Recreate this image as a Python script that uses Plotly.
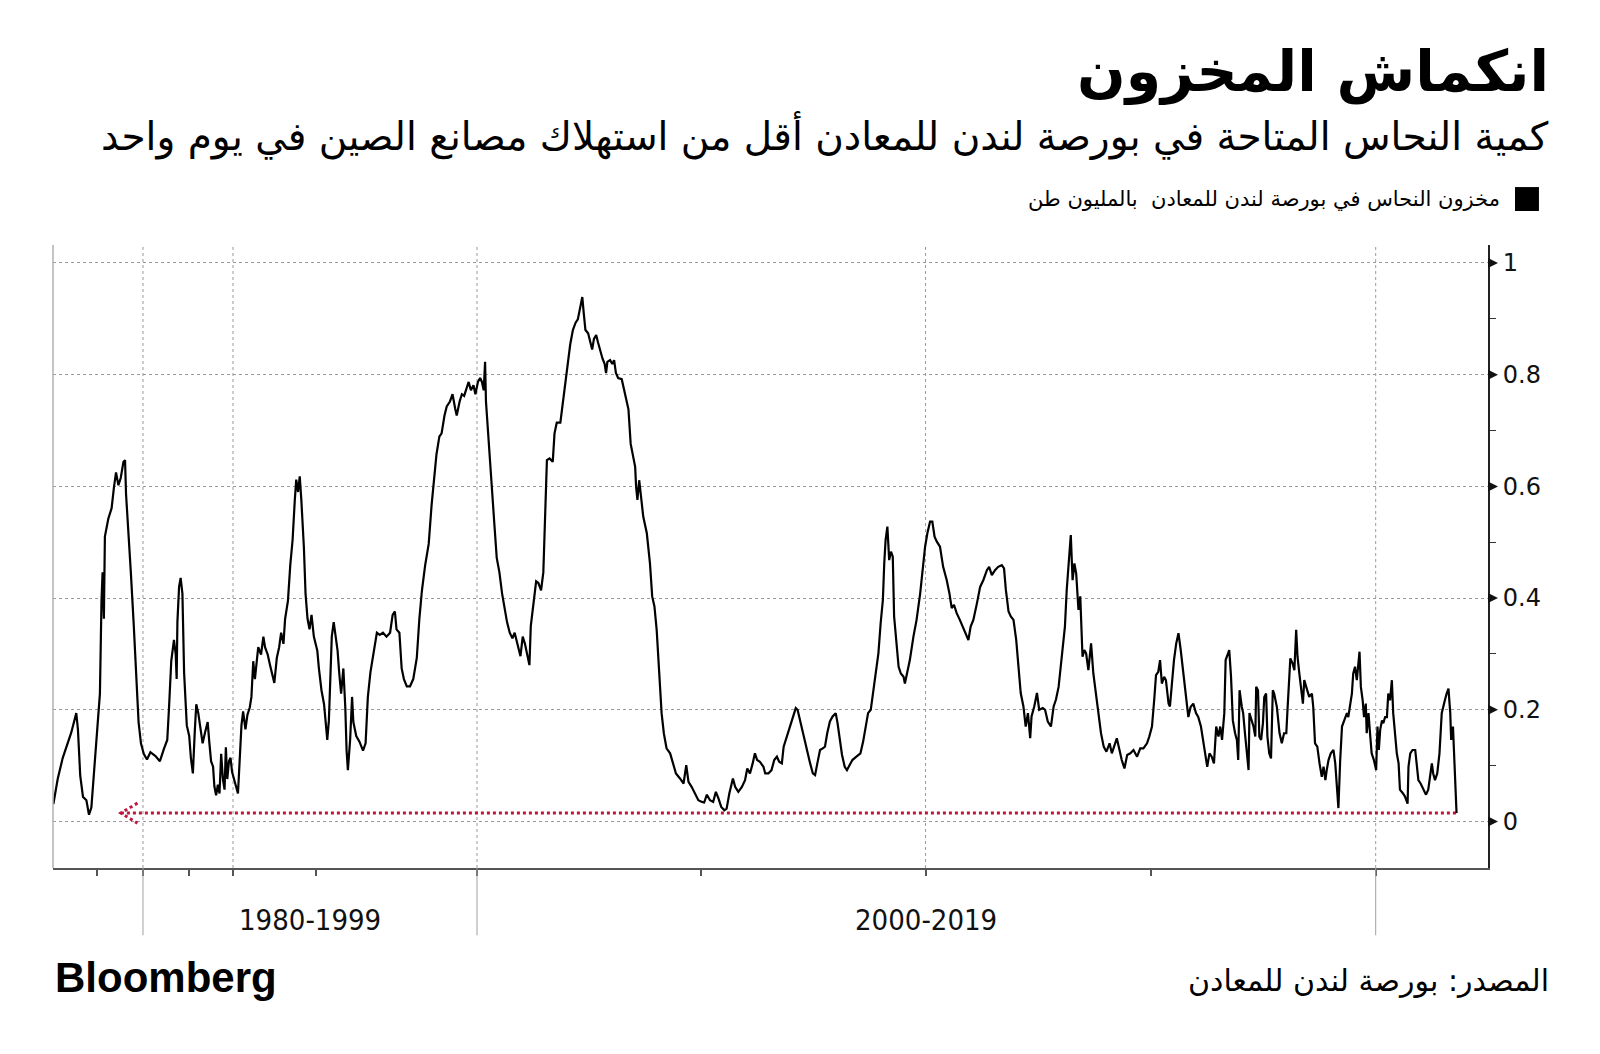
import numpy as np
import plotly.graph_objects as go

# ---------------- data (LME copper stocks, million tonnes) ----------------
YEARS = [
 1970.26,1970.73,1971.28,1971.83,1972.20,1972.75,1972.93,1973.18,1973.48,1973.85,
 1974.13,1974.39,1974.76,1975.13,1975.32,1975.49,1975.61,1975.75,1975.86,1976.23,
 1976.59,1976.85,1977.07,1977.33,1977.58,1977.88,1978.05,1978.16,1978.42,1978.68,
 1978.98,1979.27,1979.52,1979.78,1980.08,1980.43,1980.80,1981.34,1981.82,1982.25,
 1982.61,1982.80,1983.04,1983.33,1983.52,1983.62,1983.70,1983.88,1984.05,1984.24,
 1984.42,1984.71,1984.97,1985.16,1985.39,1985.62,1985.78,1986.01,1986.24,1986.51,
 1986.78,1987.09,1987.29,1987.48,1987.71,1987.86,1988.06,1988.26,1988.45,1988.64,
 1988.84,1989.03,1989.18,1989.34,1989.54,1989.72,1989.89,1990.06,1990.20,1990.30,
 1990.40,1990.51,1990.61,1990.75,1990.87,1991.01,1991.11,1991.22,1991.32,1991.42,
 1991.52,1991.69,1991.83,1991.93,1992.09,1992.23,1992.37,1992.49,1992.64,1992.78,
 1992.90,1993.04,1993.14,1993.31,1993.45,1993.59,1993.72,1993.81,1993.92,1994.02,
 1994.12,1994.27,1994.37,1994.49,1994.61,1994.73,1994.87,1995.04,1995.09,1995.17,
 1995.25,1995.30,1995.35,1995.40,1995.49,1995.55,1995.62,1995.67,1995.72,1995.78,
 1995.85,1995.91,1995.95,1995.99,1996.06,1996.12,1996.16,1996.25,1996.35,1996.46,
 1996.54,1996.61,1996.69,1996.77,1996.85,1996.89,1996.98,1997.08,1997.19,1997.30,
 1997.38,1997.45,1997.50,1997.59,1997.66,1997.73,1997.82,1997.92,1998.02,1998.13,
 1998.21,1998.29,1998.39,1998.50,1998.59,1998.66,1998.74,1998.83,1998.90,1998.99,
 1999.06,1999.16,1999.24,1999.32,1999.37,1999.46,1999.53,1999.60,1999.69,1999.74,
 1999.81,1999.89,1999.95,2000.02,2000.07,2000.11,2000.15,2000.18,2000.20,2000.24,
 2000.29,2000.34,2000.39,2000.44,2000.50,2000.56,2000.62,2000.67,2000.73,2000.79,
 2000.84,2000.88,2000.93,2000.97,2001.02,2001.07,2001.12,2001.17,2001.20,2001.26,
 2001.32,2001.37,2001.43,2001.48,2001.52,2001.56,2001.62,2001.69,2001.73,2001.78,
 2001.86,2001.92,2001.97,2002.02,2002.08,2002.14,2002.20,2002.25,2002.29,2002.35,
 2002.38,2002.42,2002.48,2002.54,2002.57,2002.61,2002.66,2002.70,2002.75,2002.80,
 2002.85,2002.88,2002.91,2002.97,2003.02,2003.06,2003.10,2003.15,2003.23,2003.33,
 2003.38,2003.43,2003.53,2003.55,2003.58,2003.62,2003.66,2003.71,2003.79,2003.86,
 2003.91,2003.96,2004.01,2004.07,2004.12,2004.17,2004.23,2004.31,2004.37,2004.44,
 2004.53,2004.61,2004.67,2004.72,2004.79,2004.87,2004.94,2005.02,2005.07,2005.13,
 2005.20,2005.27,2005.33,2005.39,2005.45,2005.52,2005.57,2005.63,2005.71,2005.76,
 2005.83,2005.91,2005.98,2006.03,2006.09,2006.15,2006.20,2006.25,2006.31,2006.39,
 2006.43,2006.50,2006.57,2006.63,2006.69,2006.74,2006.80,2006.84,2006.89,2006.94,
 2007.00,2007.06,2007.11,2007.15,2007.20,2007.28,2007.35,2007.43,2007.49,2007.54,
 2007.59,2007.65,2007.71,2007.76,2007.81,2007.87,2007.93,2008.00,2008.04,2008.09,
 2008.14,2008.20,2008.25,2008.31,2008.37,2008.46,2008.55,2008.61,2008.67,2008.72,
 2008.78,2008.83,2008.89,2008.95,2009.00,2009.05,2009.08,2009.11,2009.15,2009.19,
 2009.23,2009.27,2009.30,2009.35,2009.40,2009.45,2009.51,2009.54,2009.60,2009.65,
 2009.73,2009.80,2009.88,2009.94,2009.99,2010.04,2010.10,2010.15,2010.20,2010.25,
 2010.32,2010.39,2010.47,2010.53,2010.58,2010.63,2010.69,2010.76,2010.84,2010.90,
 2010.95,2011.00,2011.06,2011.14,2011.21,2011.28,2011.36,2011.41,2011.47,2011.54,
 2011.61,2011.69,2011.74,2011.78,2011.84,2011.89,2011.95,2012.01,2012.06,2012.11,
 2012.17,2012.22,2012.27,2012.32,2012.35,2012.41,2012.47,2012.52,2012.60,2012.65,
 2012.71,2012.78,2012.84,2012.89,2012.95,2012.98,2013.04,2013.09,2013.13,2013.17,
 2013.22,2013.26,2013.30,2013.34,2013.39,2013.43,2013.48,2013.52,2013.56,2013.61,
 2013.67,2013.72,2013.78,2013.84,2013.89,2013.95,2014.01,2014.08,2014.13,2014.18,
 2014.24,2014.30,2014.35,2014.41,2014.47,2014.54,2014.61,2014.69,2014.76,2014.83,
 2014.91,2014.96,2015.02,2015.07,2015.11,2015.16,2015.20,2015.24,2015.29,2015.33,
 2015.39,2015.42,2015.46,2015.51,2015.56,2015.61,2015.66,2015.71,2015.76,2015.79,
 2015.83,2015.88,2015.94,2016.00,2016.05,2016.11,2016.16,2016.22,2016.25,2016.30,
 2016.35,2016.40,2016.45,2016.50,2016.54,2016.58,2016.63,2016.66,2016.71,2016.74,
 2016.78,2016.82,2016.87,2016.91,2016.94,2016.97,2017.02,2017.05,2017.09,2017.13,
 2017.17,2017.19,2017.24,2017.28,2017.32,2017.34,2017.38,2017.41,2017.45,2017.49,
 2017.52,2017.56,2017.59,2017.63,2017.67,2017.71,2017.74,2017.80,2017.86,2017.91,
 2017.96,2018.01,2018.04,2018.07,2018.10,2018.15,2018.19,2018.23,2018.26,2018.30,
 2018.33,2018.38,2018.41,2018.47,2018.52,2018.58,2018.61,2018.65,2018.70,2018.75,
 2018.80,2018.84,2018.88,2018.91,2018.95,2019.00,2019.06,2019.10,2019.14,2019.17,
 2019.21,2019.25,2019.30,2019.36,2019.39,2019.43,2019.47,2019.50,2019.54,2019.58,
 2019.62,2019.64,2019.67,2019.71,2019.74,2019.78,2019.80,2019.84,2019.88,2019.91,
 2019.96,2020.01,2020.04,2020.07,2020.10,2020.14,2020.17,2020.21,2020.25,2020.28,
 2020.32,2020.36,2020.39,2020.43,2020.47,2020.51,2020.54,2020.60,2020.65,2020.71,
 2020.73,2020.77,2020.82,2020.88,2020.91,2020.95,2021.00,2021.06,2021.12,2021.17,
 2021.21,2021.25,2021.28,2021.32,2021.37,2021.42,2021.47,2021.51,2021.54,2021.58,
 2021.62,2021.66,2021.68,2021.72,2021.75,2021.78,2021.80,
]
STOCKS = [
 .031,.076,.114,.143,.159,.194,.165,.082,.044,.038,
 .012,.025,.101,.178,.229,.395,.446,.363,.510,.542,
 .561,.599,.625,.602,.615,.644,.647,.586,.523,.446,
 .357,.267,.178,.140,.121,.111,.124,.117,.108,.130,
 .146,.204,.287,.325,.299,.255,.357,.420,.436,.408,
 .267,.172,.153,.114,.086,.165,.210,.194,.172,.140,
 .159,.178,.140,.108,.098,.063,.047,.066,.050,.121,
 .076,.057,.133,.076,.108,.114,.089,.076,.063,.050,
 .108,.172,.197,.165,.191,.204,.223,.287,.255,.280,
 .312,.299,.331,.312,.299,.280,.261,.248,.293,.312,
 .338,.318,.363,.395,.459,.504,.574,.612,.590,.618,
 .574,.491,.408,.363,.344,.370,.331,.306,.274,.235,
 .210,.172,.146,.181,.331,.357,.325,.306,.267,.229,
 .274,.204,.127,.092,.146,.223,.178,.153,.143,.127,
 .140,.223,.267,.293,.318,.338,.334,.338,.331,.338,
 .370,.376,.344,.338,.274,.255,.242,.242,.255,.293,
 .363,.414,.459,.497,.567,.606,.657,.689,.695,.727,
 .743,.752,.765,.740,.727,.752,.765,.762,.778,.787,
 .772,.781,.765,.787,.794,.787,.772,.823,.752,.701,
 .638,.586,.529,.472,.446,.408,.376,.357,.338,.328,
 .338,.325,.312,.296,.331,.318,.299,.280,.350,.395,
 .430,.427,.414,.446,.535,.647,.650,.644,.695,.714,
 .714,.752,.784,.823,.854,.880,.893,.899,.918,.939,
 .912,.880,.874,.854,.845,.864,.871,.858,.842,.829,
 .819,.803,.823,.826,.819,.826,.803,.794,.792,.758,
 .738,.676,.635,.600,.576,.611,.582,.546,.516,.462,
 .403,.385,.343,.265,.194,.158,.131,.122,.104,.086,
 .077,.068,.101,.071,.062,.050,.038,.035,.034,.048,
 .038,.035,.053,.041,.026,.020,.023,.050,.077,.062,
 .053,.062,.074,.095,.086,.104,.122,.110,.107,.098,
 .086,.086,.092,.110,.116,.107,.104,.134,.146,.158,
 .176,.188,.203,.200,.182,.152,.128,.104,.086,.083,
 .104,.128,.131,.134,.158,.179,.188,.194,.176,.146,
 .119,.098,.092,.101,.110,.116,.122,.143,.170,.194,
 .200,.230,.272,.301,.355,.397,.462,.504,.528,.468,
 .483,.474,.367,.319,.277,.265,.259,.247,.271,.289,
 .331,.361,.408,.456,.492,.516,.537,.537,.510,.501,
 .492,.456,.432,.408,.382,.388,.373,.361,.346,.337,
 .325,.349,.361,.391,.420,.432,.450,.456,.441,.450,
 .456,.459,.453,.415,.376,.367,.361,.325,.277,.230,
 .206,.170,.194,.149,.188,.206,.230,.200,.203,.200,
 .179,.170,.206,.218,.241,.265,.301,.349,.415,.468,
 .513,.432,.462,.444,.379,.403,.295,.307,.301,.271,
 .319,.265,.230,.188,.158,.134,.125,.140,.122,.134,
 .149,.128,.110,.095,.119,.122,.128,.116,.131,.131,
 .140,.152,.170,.218,.262,.268,.289,.247,.259,.253,
 .211,.206,.247,.289,.319,.337,.307,.271,.241,.223,
 .187,.205,.211,.194,.187,.170,.146,.116,.098,.122,
 .116,.104,.170,.152,.170,.146,.194,.289,.301,.307,
 .259,.181,.158,.146,.110,.235,.205,.194,.158,.122,
 .092,.194,.181,.170,.152,.241,.235,.152,.146,.176,
 .223,.229,.152,.122,.113,.235,.229,.205,.158,.140,
 .158,.158,.205,.259,.292,.283,.271,.343,.295,.265,
 .247,.211,.253,.235,.223,.229,.205,.140,.134,.104,
 .080,.098,.074,.092,.110,.122,.128,.104,.057,.024,
 .110,.170,.181,.194,.187,.205,.229,.265,.277,.253,
 .295,.304,.241,.217,.187,.211,.158,.194,.152,.122,
 .110,.092,.170,.128,.164,.181,.176,.187,.187,.229,
 .217,.253,.194,.152,.122,.104,.057,.051,.045,.032,
 .098,.122,.128,.128,.104,.074,.068,.057,.048,.057,
 .080,.104,.086,.074,.086,.122,.194,.205,.217,.229,
 .238,.194,.146,.170,.116,.057,.015,
]
Y_TICKS = [0, 0.2, 0.4, 0.6, 0.8, 1.0]
Y_TICK_TEXT = ["0", "0.2", "0.4", "0.6", "0.8", "1"]
Y_MINOR = [0.1, 0.3, 0.5, 0.7, 0.9]
X_TICK_YEARS = [1975, 1980, 1985, 1990, 1995, 2000, 2005, 2010, 2015, 2020]
GRID_YEARS = [1980, 1990, 2000, 2010, 2020]
PERIOD_BOUNDS = [1980, 2000, 2020]
PERIOD_LABELS = ["1980-1999", "2000-2019"]
ARROW_START_YEAR = 1977.6

TITLE = "انكماش المخزون"
SUBTITLE = "كمية النحاس المتاحة في بورصة لندن للمعادن أقل من استهلاك مصانع الصين في يوم واحد"
LEGEND = "مخزون النحاس في بورصة لندن للمعادن  بالمليون طن"
SOURCE = "المصدر: بورصة لندن للمعادن"

# ------------- custom (piecewise) time scale, as in the original chart -------------
SCALE_YEARS = [1970, 1975, 1980, 1985, 1990, 1995, 2000, 2005, 2010, 2015, 2020, 2025]
SCALE_POS = [0, 46, 92, 138.5, 182, 265, 426, 650, 874.5, 1100, 1324.6, 1549.2]


def tpos(y):
    return np.interp(np.asarray(y, dtype=float), SCALE_YEARS, SCALE_POS)


X_RANGE = [tpos(1970.22), tpos(2022.5)]
Y_RANGE = [-0.0833, 1.0322]

RED = "#c0143c"
ARABIC = "DejaVu Sans"
RIGHT_X = 1.0440

fig = go.Figure()

# red dotted reference line at the latest level
level = STOCKS[-1]
fig.add_trace(go.Scatter(
    x=tpos([ARROW_START_YEAR, YEARS[-1]]), y=[level, level], mode="lines",
    line=dict(color=RED, width=3, dash="dot"), hoverinfo="skip", showlegend=False))
# chevron arrow head
ah_dx = tpos(ARROW_START_YEAR + 1.8) - tpos(ARROW_START_YEAR)
fig.add_trace(go.Scatter(
    x=[tpos(ARROW_START_YEAR) + ah_dx, tpos(ARROW_START_YEAR), tpos(ARROW_START_YEAR) + ah_dx],
    y=[level + 0.018, level, level - 0.018], mode="lines",
    line=dict(color=RED, width=3, dash="dot"), hoverinfo="skip", showlegend=False))

# main series
fig.add_trace(go.Scatter(
    x=tpos(YEARS), y=STOCKS, mode="lines",
    line=dict(color="#000000", width=2.2), showlegend=False))

shapes = []
for yr in GRID_YEARS:
    xp = float(tpos(yr))
    shapes.append(dict(type="line", xref="x", yref="paper", x0=xp, x1=xp, y0=0, y1=1,
                       line=dict(color="#9a9a9a", width=1, dash="dot"), layer="below"))
for yr in PERIOD_BOUNDS:
    xp = float(tpos(yr))
    shapes.append(dict(type="line", xref="x", yref="paper", x0=xp, x1=xp, y0=-0.108, y1=0,
                       line=dict(color="#a0a0a0", width=1)))
shapes.append(dict(type="line", xref="paper", yref="paper", x0=0, x1=0, y0=0, y1=1,
                   line=dict(color="#b0b0b0", width=1.5)))
dx, dy = 10 / 1435, 5 / 558.5
for v in Y_TICKS:
    shapes.append(dict(type="path", xref="paper", yref="y",
                       path=f"M 1,{v+dy} L {1+dx},{v} L 1,{v-dy} Z",
                       fillcolor="#111111", line=dict(width=0)))
shapes.append(dict(type="rect", xref="paper", yref="paper",
                   x0=1.0188, x1=1.0355, y0=1.0546, y1=1.093,
                   fillcolor="#000000", line=dict(width=0)))

annotations = []
annotations.append(dict(text=f"<b>{TITLE}</b>", xref="paper", yref="paper", x=RIGHT_X, y=1.279,
                        xanchor="right", yanchor="middle", showarrow=False,
                        font=dict(family=ARABIC, size=57, color="#000")))
annotations.append(dict(text=SUBTITLE, xref="paper", yref="paper", x=RIGHT_X, y=1.175,
                        xanchor="right", yanchor="middle", showarrow=False,
                        font=dict(family=ARABIC, size=39, color="#000")))
annotations.append(dict(text=LEGEND, xref="paper", yref="paper", x=1.0098, y=1.074,
                        xanchor="right", yanchor="middle", showarrow=False,
                        font=dict(family=ARABIC, size=21, color="#000")))
for i, lab in enumerate(PERIOD_LABELS):
    xm = float((tpos(PERIOD_BOUNDS[i]) + tpos(PERIOD_BOUNDS[i + 1])) / 2)
    annotations.append(dict(text=lab, xref="x", yref="paper", x=xm, y=-0.0835,
                            xanchor="center", yanchor="middle", showarrow=False,
                            font=dict(family="DejaVu Sans Condensed, sans-serif",
                                      size=29, color="#111")))
annotations.append(dict(text="<b>Bloomberg</b>", xref="paper", yref="paper", x=0.0, y=-0.175,
                        xanchor="left", yanchor="middle", showarrow=False,
                        font=dict(family="Liberation Sans, Arial, sans-serif", size=42, color="#000")))
annotations.append(dict(text=SOURCE, xref="paper", yref="paper", x=RIGHT_X, y=-0.18,
                        xanchor="right", yanchor="middle", showarrow=False,
                        font=dict(family=ARABIC, size=30, color="#000")))

fig.update_layout(
    width=1600, height=1054,
    margin=dict(l=53, r=112, t=245, b=186, autoexpand=False),
    paper_bgcolor="white", plot_bgcolor="white",
    showlegend=False,
    shapes=shapes, annotations=annotations,
    xaxis=dict(range=X_RANGE, tickmode="array", tickvals=tpos(X_TICK_YEARS).tolist(),
               ticktext=[""] * len(X_TICK_YEARS), ticks="outside", ticklen=6, tickwidth=1.5,
               tickcolor="#555", showline=True, linecolor="#555", linewidth=2,
               showgrid=False, zeroline=False, fixedrange=True),
    yaxis=dict(range=Y_RANGE, side="right", tickmode="array", tickvals=Y_TICKS,
               ticktext=Y_TICK_TEXT, ticks="outside", ticklen=8, tickcolor="rgba(0,0,0,0)",
               showline=True, linecolor="#222", linewidth=2,
               showgrid=True, gridcolor="#9a9a9a", gridwidth=1, griddash="dot",
               zeroline=False,
               tickfont=dict(family="DejaVu Sans", size=24, color="#111"),
               minor=dict(tickvals=Y_MINOR, ticks="outside", ticklen=6, tickwidth=1,
                          tickcolor="#333", showgrid=False),
               fixedrange=True),
)

fig.write_html("out.html", config={"displayModeBar": False},
               post_script="document.body.style.margin='0px';")
